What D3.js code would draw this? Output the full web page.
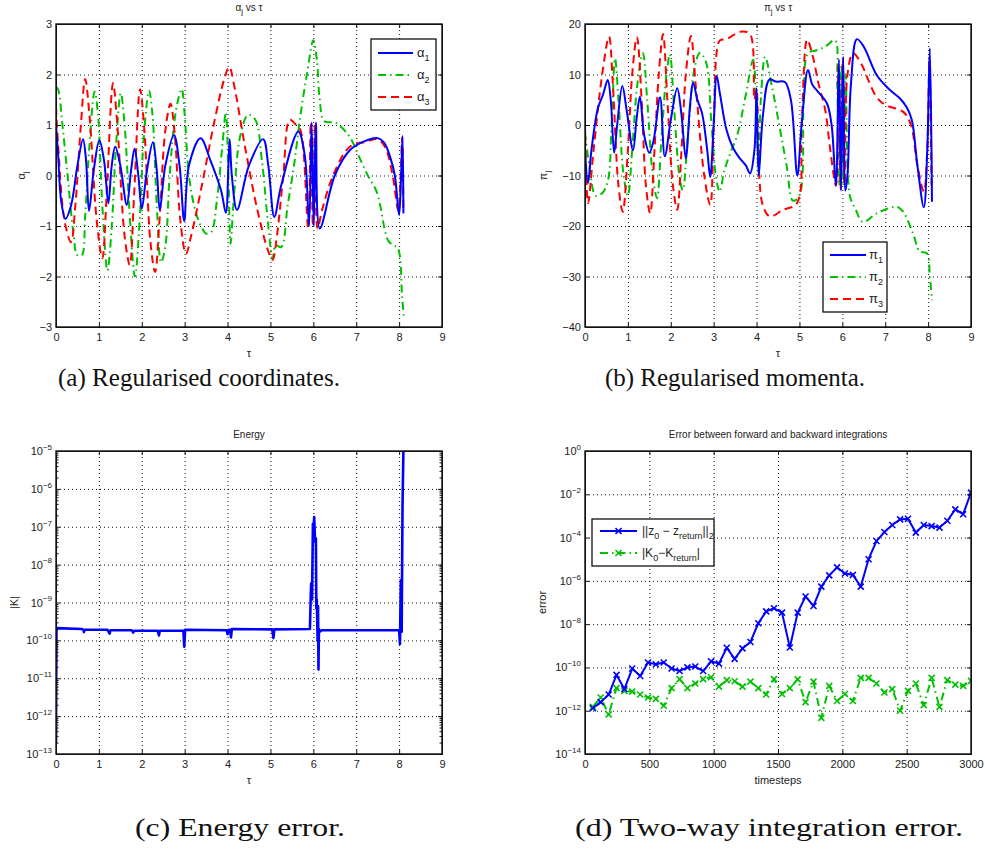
<!DOCTYPE html>
<html>
<head>
<meta charset="utf-8">
<script src="https://cdn.jsdelivr.net/npm/d3@7"></script>
<style>
body { margin: 0; background: #fff; }
svg text { font-family: "Liberation Sans", Arial, sans-serif; fill: #222; }
.cap { font-family: "Liberation Serif", "DejaVu Serif", serif; fill: #111; }
</style>
</head>
<body>
<svg id="fig" width="985" height="850"></svg>
<script>
// ---- data ----
var tauTicks = [0, 1, 2, 3, 4, 5, 6, 7, 8, 9];
var alphaTicks = [-3, -2, -1, 0, 1, 2, 3];
var piTicks = [-40, -30, -20, -10, 0, 10, 20];
var energyTicks = [1e-13, 1e-12, 1e-11, 1e-10, 1e-9, 1e-8, 1e-7, 1e-6, 1e-5];
var errTicks = [1e-14, 1e-12, 1e-10, 1e-8, 1e-6, 1e-4, 1e-2, 1e0];
var stepTicks = [0, 500, 1000, 1500, 2000, 2500, 3000];

var alpha1 = [[0,1.0],[0.05,0.4],[0.12,-0.5],[0.22,-0.86],[0.35,-0.6],[0.5,0.2],[0.63,0.72],[0.7,0.3],[0.77,-0.7],[0.88,0.1],[1.01,0.7],[1.12,0.3],[1.22,-0.55],[1.3,0.2],[1.38,0.57],[1.5,0.2],[1.65,-0.58],[1.75,0.1],[1.83,0.53],[1.92,0.0],[2.0,-0.66],[2.12,0.1],[2.26,0.66],[2.35,0.1],[2.42,-0.68],[2.55,0.2],[2.75,0.8],[2.88,0.2],[2.99,-0.9],[3.1,0.2],[3.37,0.74],[3.6,0.3],[3.85,-0.3],[3.96,-0.74],[4.02,0.2],[4.05,0.72],[4.1,0.0],[4.22,-0.68],[4.5,0.2],[4.83,0.72],[4.95,0.2],[5.09,-0.82],[5.25,-0.2],[5.65,0.87],[5.8,0.4],[5.9,-1.0],[5.96,1.05],[6.01,-1.0],[6.06,1.05],[6.15,-1.05],[6.5,0.0],[6.85,0.5],[7.2,0.68],[7.5,0.74],[7.65,0.65],[7.79,0.37],[7.9,0.0],[8.0,-0.78],[8.05,0.1],[8.08,0.78],[8.1,-0.75]];
var alpha2 = [[0,1.75],[0.05,1.7],[0.15,1.0],[0.27,0],[0.4,-1.1],[0.5,-1.58],[0.6,-1.58],[0.68,-0.8],[0.78,0.6],[0.9,1.66],[0.98,1.2],[1.08,-0.6],[1.2,-1.88],[1.3,-1.0],[1.4,0.6],[1.51,1.63],[1.6,1.0],[1.72,-0.8],[1.84,-2.0],[1.95,-0.9],[2.05,0.8],[2.17,1.68],[2.25,1.2],[2.35,-0.6],[2.45,-1.72],[2.55,-1.4],[2.65,0],[2.8,1.3],[2.93,1.71],[3.0,1.2],[3.1,0.0],[3.25,-0.7],[3.38,-1.0],[3.5,-1.15],[3.62,-1.12],[3.75,-0.5],[3.88,0.6],[3.96,1.25],[4.02,0.0],[4.07,-1.35],[4.15,-0.4],[4.3,0.8],[4.48,1.2],[4.65,1.1],[4.8,0.3],[4.95,-1.0],[5.05,-1.65],[5.12,-1.38],[5.25,-1.42],[5.4,-0.6],[5.55,0.2],[5.7,1.2],[5.85,2.0],[6.0,2.68],[6.08,2.3],[6.15,1.5],[6.25,1.08],[6.53,1.04],[6.85,0.76],[7.05,0.4],[7.27,0.0],[7.48,-0.33],[7.74,-1.28],[7.86,-1.38],[7.97,-1.44],[8.07,-2.4],[8.11,-2.82]];
var alpha3 = [[0,1.36],[0.05,0.6],[0.2,-0.9],[0.35,-1.32],[0.45,-0.6],[0.58,1.0],[0.68,1.91],[0.78,1.2],[0.95,-0.9],[1.08,-1.64],[1.18,-0.4],[1.33,1.83],[1.43,1.0],[1.6,-1.2],[1.72,-1.77],[1.82,-0.4],[1.96,1.71],[2.06,0.9],[2.2,-1.3],[2.31,-1.91],[2.42,-0.8],[2.55,0.9],[2.67,1.42],[2.77,0.8],[2.9,-0.9],[3.03,-1.55],[3.15,-1.2],[3.4,-0.2],[3.7,1.1],[3.92,1.9],[4.04,2.15],[4.15,1.8],[4.4,0.6],[4.7,-0.7],[4.95,-1.5],[5.05,-1.67],[5.15,-1.2],[5.3,0.0],[5.45,1.1],[5.6,1.0],[5.7,0.9],[5.88,-1.05],[5.94,1.05],[5.99,-1.0],[6.04,1.0],[6.1,-1.05],[6.2,-0.7],[6.46,0.0],[6.85,0.57],[7.24,0.67],[7.5,0.72],[7.68,0.55],[7.85,0.0],[7.98,-0.7],[8.04,0.1],[8.07,0.75],[8.1,-0.7]];

var pi1 = [[0,-5],[0.07,-11.5],[0.15,-5],[0.3,3.3],[0.42,6],[0.53,8.9],[0.6,5],[0.68,-5.5],[0.75,0],[0.87,7.7],[0.97,3],[1.12,-5],[1.2,1],[1.28,5.6],[1.38,-2],[1.5,-5.5],[1.6,-3],[1.75,5.5],[1.86,-6.2],[2.0,1],[2.15,7.3],[2.25,2],[2.35,-6.6],[2.45,4],[2.52,8.4],[2.62,5],[2.73,2.3],[2.85,-5],[2.92,-10.3],[3.0,0],[3.07,9.7],[3.15,6],[3.3,-1],[3.45,-4.5],[3.6,-6.5],[3.75,-8],[3.85,-9.6],[3.95,-5],[4.0,7.3],[4.05,-10],[4.15,2],[4.3,9],[4.45,8.6],[4.66,8.5],[4.8,5],[4.95,-10],[5.05,0],[5.2,10.9],[5.3,8],[5.43,6.6],[5.64,4.3],[5.75,0],[5.85,-12],[5.92,13],[5.97,-13],[6.02,13.5],[6.07,-13],[6.12,-10],[6.2,8],[6.34,17],[6.5,15.5],[6.8,9.9],[7.1,7],[7.34,5.3],[7.5,3.5],[7.62,1],[7.75,-8],[7.9,-16.3],[7.98,-5],[8.04,15.2],[8.09,-15.2]];
var pi2 = [[0,-1.4],[0.1,-8],[0.25,-14],[0.4,-13.5],[0.53,-11.2],[0.62,0],[0.7,13.2],[0.78,5],[0.9,-10],[1.0,-14],[1.1,-5],[1.22,8],[1.35,14.2],[1.45,5],[1.58,-10],[1.68,-14.5],[1.78,-3],[1.9,10],[1.98,14],[2.08,3],[2.2,-10],[2.28,-12.9],[2.4,-2],[2.55,11],[2.68,14.3],[2.82,12.5],[2.95,0],[3.05,-10],[3.14,-13.2],[3.25,-9],[3.4,-5.3],[3.55,-2],[3.75,6],[3.92,12.9],[4.0,0],[4.05,-10],[4.1,5],[4.2,13.5],[4.35,8],[4.55,-1],[4.7,-8],[4.85,-15],[5.0,-13.9],[5.1,5],[5.2,14.2],[5.4,14.8],[5.6,15.5],[5.83,16.8],[5.88,8],[5.93,-12],[5.98,12],[6.03,-12],[6.08,10],[6.18,-14.2],[6.3,-16.5],[6.48,-19.2],[6.8,-17.5],[7.27,-16.2],[7.42,-17.2],[7.65,-21.5],[7.8,-25],[7.97,-25.4],[8.04,-30],[8.09,-34.7]];
var pi3 = [[0,0],[0.07,-15.5],[0.2,-5],[0.4,10],[0.56,17.5],[0.65,8],[0.78,-12],[0.88,-17.2],[1.0,-5],[1.1,10],[1.21,17.4],[1.32,5],[1.42,-12],[1.52,-17.5],[1.62,-5],[1.72,10],[1.82,18],[1.92,5],[2.05,-12],[2.15,-16.8],[2.25,-5],[2.35,10],[2.47,17.6],[2.58,8],[2.78,-10],[2.92,-15.8],[3.0,0],[3.08,15],[3.15,16.8],[3.3,17],[3.5,18],[3.66,18.5],[3.85,18],[3.95,5],[4.0,7],[4.05,-8],[4.15,-16],[4.31,-18.1],[4.62,-16.8],[4.94,-15.5],[5.05,0],[5.18,16.9],[5.3,14],[5.45,8],[5.6,3],[5.72,-5],[5.85,-12],[5.91,12],[5.96,-12.5],[6.01,13],[6.06,-12],[6.12,10],[6.25,14.2],[6.45,12],[6.6,9],[6.8,5.5],[7.0,4.0],[7.42,2.6],[7.6,0],[7.75,-8],[7.9,-13.2],[7.98,-5],[8.03,13],[8.08,-12]];

var energy = [[0,2e-13],[0.005,1e-11],[0.012,2.1e-10],[0.6,2.0e-10],[0.64,1.9e-10],[0.65,1.65e-10],[0.67,1.9e-10],[1.2,1.9e-10],[1.25,1.5e-10],[1.27,1.85e-10],[1.77,1.85e-10],[1.8,1.6e-10],[1.83,1.8e-10],[2.37,1.8e-10],[2.4,1.35e-10],[2.42,1.8e-10],[2.97,1.8e-10],[2.99,6.8e-11],[3.01,1.9e-10],[3.98,1.85e-10],[4.0,1.45e-10],[4.03,1.9e-10],[4.06,1.9e-10],[4.08,1.2e-10],[4.1,2.0e-10],[5.04,1.95e-10],[5.07,1.15e-10],[5.09,1.95e-10],[5.92,2.0e-10],[5.94,1.5e-9],[5.95,3.2e-9],[5.97,1.2e-9],[5.99,1.2e-7],[6.0,6e-8],[6.02,1.8e-7],[6.04,4e-8],[6.06,5e-8],[6.07,7e-10],[6.08,1.2e-9],[6.1,1e-10],[6.11,8e-10],[6.12,1.7e-11],[6.13,2e-10],[6.15,1.7e-10],[6.2,1.85e-10],[8.0,1.85e-10],[8.02,8e-11],[8.04,3.9e-9],[8.06,1.7e-10],[8.08,4e-7],[8.1,1e-5]];

var timesteps = [61,122,184,245,306,367,429,490,551,612,673,735,796,857,918,980,1041,1102,1163,1224,1286,1347,1408,1469,1531,1592,1653,1714,1776,1837,1898,1959,2020,2082,2143,2204,2265,2327,2388,2449,2510,2571,2633,2694,2755,2816,2878,2939,3000];
var zErr = [1.3e-12,2.5e-12,5.6e-12,4.5e-11,1.0e-11,8.9e-11,4.0e-11,1.7e-10,1.4e-10,1.7e-10,8.9e-11,6.8e-11,1.0e-10,1.1e-10,6.8e-11,1.9e-10,1.5e-10,8.1e-10,2.5e-10,7.6e-10,1.5e-9,1.1e-8,3.9e-8,5.4e-8,3.4e-8,8.3e-10,3.4e-8,1.9e-7,6.9e-8,5.4e-7,1.8e-6,4.2e-6,2.2e-6,1.9e-6,5.4e-7,1.0e-5,6.9e-5,1.8e-4,3.8e-4,6.9e-4,7.4e-4,1.7e-4,3.8e-4,3.4e-4,2.9e-4,6.0e-4,2.0e-3,1.2e-3,1.2e-2];
var kErr = [1.5e-12,4.1e-12,6.8e-13,1.1e-11,8.1e-12,7.6e-12,5.6e-12,4.1e-12,3.5e-12,1.7e-12,1.1e-11,2.9e-11,1.1e-11,1.8e-11,2.9e-11,3.5e-11,1.3e-11,2.6e-11,2.3e-11,1.3e-11,2.2e-11,1.1e-11,5.6e-12,2.9e-11,5.9e-12,1.1e-11,2.8e-11,2.5e-12,2.2e-11,4.7e-13,1.4e-11,2.8e-12,5.9e-12,2.8e-12,3.3e-11,3.3e-11,1.8e-11,6.9e-12,1.0e-11,1.0e-12,8.3e-12,1.8e-11,1.8e-12,3.3e-11,1.5e-12,2.6e-11,1.6e-11,1.4e-11,2.4e-11];

// ---- drawing ----
var svg = d3.select("#fig");
var BLUE = "#0000ff", GREEN = "#00c000", RED = "#ff0000";
var styles = {
  blue: {stroke: BLUE, dash: null},
  green: {stroke: GREEN, dash: "8,4,1.5,4"},
  red: {stroke: RED, dash: "8,5"}
};

// text made of plain / subscript parts
function rich(sel, parts, sub) {
  parts.forEach(function(p) {
    var t = sel.append("tspan").text(p[0]);
    if (p[1]) t.attr("dy", sub.dy).attr("font-size", sub.size);
    else if (p[2]) t.attr("dy", -sub.dy);
  });
}
var supMap = {"-": "\u2212"};
function logLabel(d) {
  var e = Math.round(Math.log10(d));
  var t = d3.select(this).text("10");
  t.append("tspan").attr("dy", "-0.65em").attr("font-size", "8px")
    .text(String(e).replace("-", "\u2212"));
}

function panel(o) {
  var g = svg.append("g");
  var x = o.x, y = o.y;
  var X0 = x.range()[0], X1 = x.range()[1], Yb = y.range()[0], Yt = y.range()[1];
  var id = "clip" + o.name;
  svg.append("clipPath").attr("id", id).append("rect")
    .attr("x", X0).attr("y", Yt).attr("width", X1 - X0).attr("height", Yb - Yt);

  // dotted grid
  g.append("g").attr("transform", "translate(0," + Yb + ")")
    .call(d3.axisBottom(x).tickValues(o.xTicks).tickSize(-(Yb - Yt)).tickFormat(""))
    .call(function(s) { s.select(".domain").remove(); s.selectAll("line").attr("stroke", "#555").attr("stroke-dasharray", "1,3"); });
  g.append("g").attr("transform", "translate(" + X0 + ",0)")
    .call(d3.axisLeft(y).tickValues(o.yTicks).tickSize(-(X1 - X0)).tickFormat(""))
    .call(function(s) { s.select(".domain").remove(); s.selectAll("line").attr("stroke", "#555").attr("stroke-dasharray", "1,3"); });

  // series
  var lines = g.append("g").attr("clip-path", "url(#" + id + ")");
  o.series.forEach(function(s) {
    var st = styles[s.style];
    var line = d3.line().x(function(d) { return x(d[0]); }).y(function(d) { return y(d[1]); })
      .curve(s.curve || d3.curveLinear);
    lines.append("path").datum(s.data).attr("d", line).attr("fill", "none")
      .attr("stroke", st.stroke).attr("stroke-width", s.width || 2)
      .attr("stroke-dasharray", st.dash).attr("stroke-linejoin", "round");
    if (s.markers) {
      lines.selectAll(null).data(s.data).join("path")
        .attr("transform", function(d) { return "translate(" + x(d[0]) + "," + y(d[1]) + ")"; })
        .attr("d", "M-3,-3L3,3M-3,3L3,-3").attr("stroke", st.stroke).attr("stroke-width", 1.6);
    }
  });

  // box + inward ticks on all four sides
  var tk = 4;
  var bottom = g.append("g").attr("transform", "translate(0," + Yb + ")")
    .call(d3.axisBottom(x).tickValues(o.xTicks).tickSizeInner(-tk).tickSizeOuter(0).tickPadding(6).tickFormat(o.xFmt || d3.format("d")));
  g.append("g").attr("transform", "translate(0," + Yt + ")")
    .call(d3.axisTop(x).tickValues(o.xTicks).tickSizeInner(-tk).tickSizeOuter(0).tickFormat(""));
  var left = g.append("g").attr("transform", "translate(" + X0 + ",0)")
    .call(d3.axisLeft(y).tickValues(o.yTicks).tickSizeInner(-tk).tickSizeOuter(0).tickPadding(4).tickFormat(o.log ? "" : d3.format("d")));
  g.append("g").attr("transform", "translate(" + X1 + ",0)")
    .call(d3.axisRight(y).tickValues(o.yTicks).tickSizeInner(-tk).tickSizeOuter(0).tickFormat(""));
  if (o.minor) {
    var mt = [];
    o.yTicks.forEach(function(t) { for (var k = 2; k < 10; k++) if (t * k < y.domain()[1]) mt.push(t * k); });
    g.append("g").attr("transform", "translate(" + X0 + ",0)")
      .call(d3.axisLeft(y).tickValues(mt).tickSizeInner(-2.5).tickSizeOuter(0).tickFormat(""))
      .select(".domain").remove();
    g.append("g").attr("transform", "translate(" + X1 + ",0)")
      .call(d3.axisRight(y).tickValues(mt).tickSizeInner(-2.5).tickSizeOuter(0).tickFormat(""))
      .select(".domain").remove();
  }
  if (o.log) left.selectAll(".tick text").each(logLabel);
  g.selectAll(".tick text").attr("font-size", 11).attr("fill", "#222")
    .style("font-family", "'Liberation Sans', Arial, sans-serif");
  g.selectAll(".domain, .tick line").attr("stroke", "#111");
  g.append("rect").attr("x", X0).attr("y", Yt).attr("width", X1 - X0).attr("height", Yb - Yt)
    .attr("fill", "none").attr("stroke", "#111").attr("stroke-width", 1.4);

  // title and axis labels
  var cx = (X0 + X1) / 2;
  rich(g.append("text").attr("x", cx).attr("y", Yt - 13).attr("text-anchor", "middle").attr("font-size", 10),
    o.title, {dy: 3, size: 8});
  rich(g.append("text").attr("x", cx).attr("y", Yb + 30).attr("text-anchor", "middle").attr("font-size", 11),
    o.xLabel, {dy: 3, size: 8});
  rich(g.append("text").attr("transform", "translate(" + o.yLabelX + "," + ((Yt + Yb) / 2) + ") rotate(-90)")
    .attr("text-anchor", "middle").attr("font-size", 11), o.yLabel, {dy: 3, size: 8});

  // legend
  if (o.legend) {
    var L = o.legend;
    var lg = g.append("g");
    lg.append("rect").attr("x", L.x).attr("y", L.y).attr("width", L.w).attr("height", L.h)
      .attr("fill", "#fff").attr("stroke", "#111").attr("stroke-width", 1.3);
    L.items.forEach(function(it, i) {
      var st = styles[it.style];
      var yy = L.y + L.first + i * L.step;
      lg.append("line").attr("x1", L.x + L.lx0).attr("x2", L.x + L.lx1).attr("y1", yy).attr("y2", yy)
        .attr("stroke", st.stroke).attr("stroke-width", 2).attr("stroke-dasharray", st.dash);
      if (it.marker) {
        var mx = L.x + (L.lx0 + L.lx1) / 2;
        lg.append("path").attr("d", "M" + (mx - 3) + "," + (yy - 3) + "L" + (mx + 3) + "," + (yy + 3) + "M" + (mx - 3) + "," + (yy + 3) + "L" + (mx + 3) + "," + (yy - 3))
          .attr("stroke", st.stroke).attr("stroke-width", 1.6);
      }
      rich(lg.append("text").attr("x", L.x + L.tx).attr("y", yy + 4).attr("font-size", L.fs || 12),
        it.label, {dy: 4, size: 9});
    });
  }
}

var tauA = d3.scaleLinear().domain([0, 9]).range([56, 442]);
var tauB = d3.scaleLinear().domain([0, 9]).range([585, 971]);
var tauC = d3.scaleLinear().domain([0, 9]).range([56, 442]);
var stepD = d3.scaleLinear().domain([0, 3000]).range([585, 971]);

var cr = d3.curveCatmullRom.alpha(0.5);

panel({
  name: "a", x: tauA, y: d3.scaleLinear().domain([-3, 3]).range([327, 24]),
  xTicks: tauTicks, yTicks: alphaTicks,
  title: [["\u03b1"], ["j", 1], [" vs \u03c4", 0, 1]], xLabel: [["\u03c4"]], yLabel: [["\u03b1"], ["j", 1]], yLabelX: 25,
  series: [
    {data: alpha2, style: "green", curve: cr},
    {data: alpha3, style: "red", curve: cr},
    {data: alpha1, style: "blue", curve: cr}
  ],
  legend: {x: 371, y: 39, w: 65, h: 71, first: 14, step: 22, lx0: 7, lx1: 42, tx: 46, fs: 13,
    items: [{style: "blue", label: [["\u03b1"], ["1", 1]]}, {style: "green", label: [["\u03b1"], ["2", 1]]}, {style: "red", label: [["\u03b1"], ["3", 1]]}]}
});

panel({
  name: "b", x: tauB, y: d3.scaleLinear().domain([-40, 20]).range([327, 24]),
  xTicks: tauTicks, yTicks: piTicks,
  title: [["\u03c0"], ["j", 1], [" vs \u03c4", 0, 1]], xLabel: [["\u03c4"]], yLabel: [["\u03c0"], ["j", 1]], yLabelX: 547,
  series: [
    {data: pi2, style: "green", curve: cr},
    {data: pi3, style: "red", curve: cr},
    {data: pi1, style: "blue", curve: cr}
  ],
  legend: {x: 823, y: 242, w: 64, h: 70, first: 13, step: 22, lx0: 7, lx1: 43, tx: 46, fs: 13,
    items: [{style: "blue", label: [["\u03c0"], ["1", 1]]}, {style: "green", label: [["\u03c0"], ["2", 1]]}, {style: "red", label: [["\u03c0"], ["3", 1]]}]}
});

panel({
  name: "c", x: tauC, y: d3.scaleLog().domain([1e-13, 1e-5]).range([754, 451]), log: true, minor: true,
  xTicks: tauTicks, yTicks: energyTicks,
  title: [["Energy"]], xLabel: [["\u03c4"]], yLabel: [["|K|"]], yLabelX: 18,
  series: [{data: energy, style: "blue", width: 2.6}]
});

panel({
  name: "d", x: stepD, y: d3.scaleLog().domain([1e-14, 1]).range([754, 451]), log: true,
  xTicks: stepTicks, yTicks: errTicks,
  title: [["Error between forward and backward integrations"]], xLabel: [["timesteps"]], yLabel: [["error"]], yLabelX: 546,
  series: [
    {data: timesteps.map(function(t, i) { return [t, kErr[i]]; }), style: "green", markers: true},
    {data: timesteps.map(function(t, i) { return [t, zErr[i]]; }), style: "blue", markers: true}
  ],
  legend: {x: 592, y: 519, w: 122, h: 47, first: 12, step: 22, lx0: 8, lx1: 45, tx: 50, fs: 12,
    items: [
      {style: "blue", marker: true, label: [["||z"], ["0", 1], [" \u2212 z", 0, 1], ["return", 1], ["||", 0, 1], ["2", 1]]},
      {style: "green", marker: true, label: [["|K"], ["0", 1], ["\u2212K", 0, 1], ["return", 1], ["|", 0, 1]]}
    ]}
});

// sub-figure captions
var captions = [
  {t: "(a) Regularised coordinates.", x: 58, w: 282, y: 386},
  {t: "(b) Regularised momenta.", x: 605, w: 260, y: 386},
  {t: "(c) Energy error.", x: 135, w: 210, y: 836},
  {t: "(d) Two-way integration error.", x: 575, w: 388, y: 836}
];
svg.selectAll("text.cap").data(captions).join("text").attr("class", "cap")
  .attr("x", function(d) { return d.x; }).attr("y", function(d) { return d.y; })
  .attr("font-size", 25).attr("textLength", function(d) { return d.w; })
  .attr("lengthAdjust", "spacingAndGlyphs").text(function(d) { return d.t; });
</script>
</body>
</html>
